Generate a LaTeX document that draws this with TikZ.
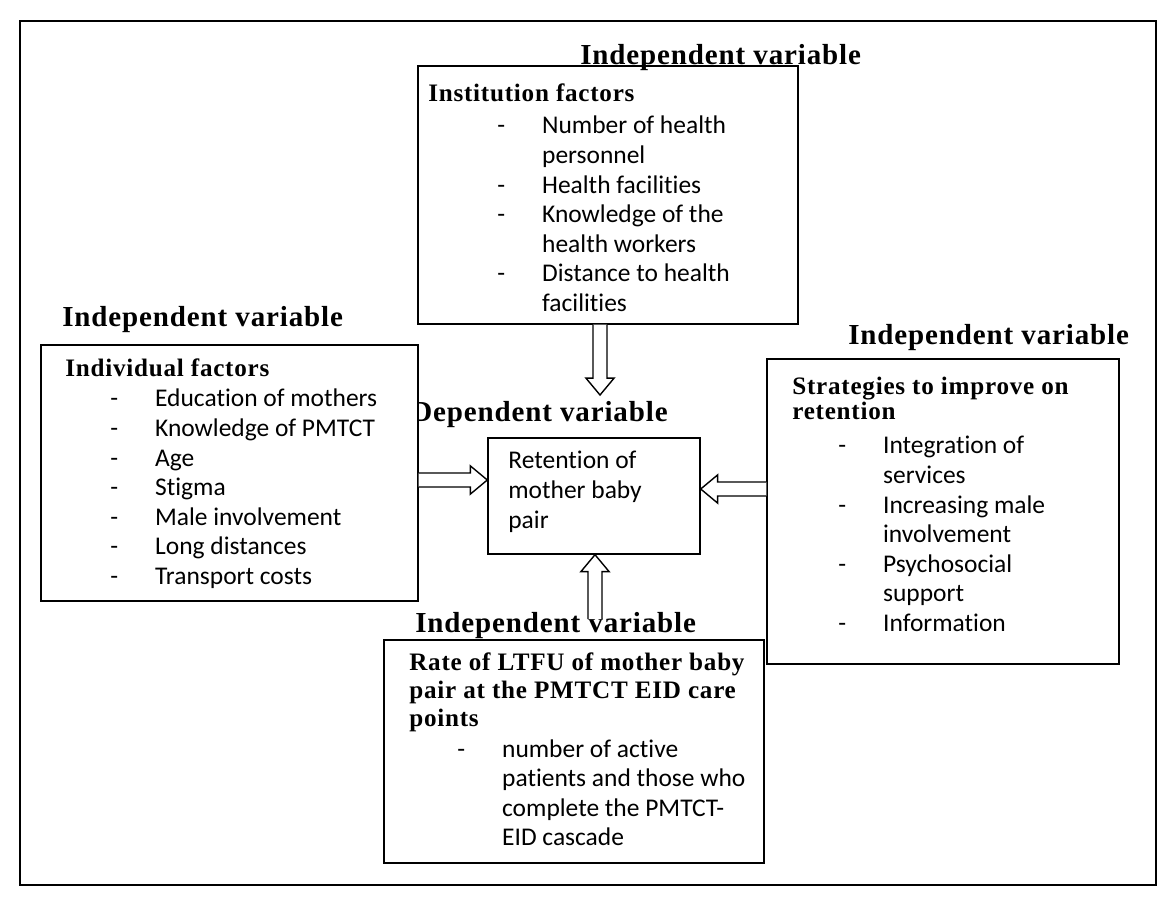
\documentclass[tikz,border=0pt]{standalone}
\usepackage{fontspec}
\setmainfont[Ligatures=NoCommon]{Carlito}
\newfontfamily\headfont[LetterSpace=3]{Liberation Serif}
\usepackage{tikz}
\usetikzlibrary{calc,fit}

\tikzset{
  box/.style={draw, fill=white, inner sep=0pt, line width=0.8pt},
  heading/.style={inner sep=0pt, anchor=base west, font=\headfont\bfseries\fontsize{16.5}{19}\selectfont},
  boxtitle/.style={inner sep=0pt, anchor=base west, font=\headfont\bfseries\fontsize{14.3}{14.2}\selectfont},
  items/.style={inner sep=0pt, anchor=base west, font=\fontsize{14.5}{16.8}\selectfont},
  fatarrow/.style={draw, fill=white, line width=0.8pt, line join=miter}
}

% hollow block arrow from #1 to #2
\newcommand{\hollowarrow}[2]{%
  \coordinate (hb) at ($(#2)!9.6pt!(#1)$);
  \draw[fatarrow] ($(#1)!4pt!90:(#2)$) -- ($(hb)!4pt!90:(#2)$) -- ($(hb)!8pt!90:(#2)$) -- (#2)
    -- ($(hb)!8pt!-90:(#2)$) -- ($(hb)!4pt!-90:(#2)$) -- ($(#1)!4pt!-90:(#2)$);
}

\begin{document}
\begin{tikzpicture}[x=0.02cm, y=-0.02cm]
  \useasboundingbox (0,0) rectangle (1161,912);
  \draw[line width=0.8pt] (20,21) rectangle (1156,885);

  \node[heading] (hdep) at (411,422) {Dependent variable};

  % boxes
  \node[box, fit={(418,66) (798,324)}] (inst) {};
  \node[box, fit={(41,345) (418,601)}] (ind) {};
  \node[box, fit={(488,438) (700,554)}] (ctr) {};
  \node[box, fit={(767,359) (1119,664)}] (strat) {};
  \node[box, fit={(384,640) (764,863)}] (ltfu) {};

  \foreach \name/\x/\y in {htop/580/65, hleft/62/327, hright/848/345, hbot/415/632}
    \node[heading] (\name) at (\x,\y) {Independent variable};

  % institution factors
  \node[boxtitle] (insttitle) at (428,102) {Institution factors};
  \node[items] (instlist) at (497,134) {\begin{tabular}[t]{@{}p{25.5pt}@{}l@{}}
    - & Number of health\\
      & personnel\\
    - & Health facilities\\
    - & Knowledge of the\\
      & health workers\\
    - & Distance to health\\
      & facilities
  \end{tabular}};

  % individual factors
  \node[boxtitle] (indtitle) at (65,377) {Individual factors};
  \node[items] (indlist) at (110,407) {\begin{tabular}[t]{@{}p{25.5pt}@{}l@{}}
    - & Education of mothers\\
    - & Knowledge of PMTCT\\
    - & Age\\
    - & Stigma\\
    - & Male involvement\\
    - & Long distances\\
    - & Transport costs
  \end{tabular}};

  % dependent variable
  \node[items] (ctrtext) at (508,469) {\begin{tabular}[t]{@{}l@{}}
    Retention of\\ mother baby\\ pair
  \end{tabular}};

  % strategies
  \node[boxtitle] (strattitle) at (792,395) {\begin{tabular}[t]{@{}l@{}}
    Strategies to improve on\\ retention
  \end{tabular}};
  \node[items] (stratlist) at (838,454) {\begin{tabular}[t]{@{}p{25.5pt}@{}l@{}}
    - & Integration of\\
      & services\\
    - & Increasing male\\
      & involvement\\
    - & Psychosocial\\
      & support\\
    - & Information
  \end{tabular}};

  % rate of LTFU
  \node[boxtitle] (ltfutitle) at (409,670) {\begin{tabular}[t]{@{}l@{}}
    Rate of LTFU of mother baby\\[2pt] pair at the PMTCT EID care\\[2pt] points
  \end{tabular}};
  \node[items] (ltfulist) at (457,757) {\begin{tabular}[t]{@{}p{25.5pt}@{}l@{}}
    - & number of active\\
      & patients and those who\\
      & complete the PMTCT-\\
      & EID cascade
  \end{tabular}};

  % arrows
  \coordinate (tend) at (600,395);
  \coordinate (tstart) at (inst.south -| tend);
  \coordinate (lrow) at (0,480);
  \coordinate (rrow) at (0,489);
  \coordinate (bstart) at (595,619);
  \hollowarrow{tstart}{tend}
  \hollowarrow{ind.east |- lrow}{ctr.west |- lrow}
  \hollowarrow{strat.west |- rrow}{ctr.east |- rrow}
  \hollowarrow{bstart}{ctr.south -| bstart}
\end{tikzpicture}
\end{document}
